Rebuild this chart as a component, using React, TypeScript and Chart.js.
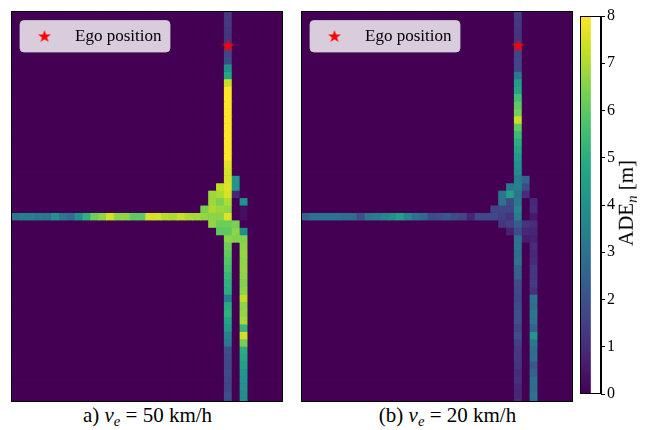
import React, { useEffect, useRef } from "react";
import { Chart, registerables } from "chart.js";
Chart.register(...registerables);

// ---------- grid geometry (in cell units) ----------
const N_COLS = 35;
const N_ROWS = 53;
const X_MAX = 34.35;
const Y_MAX = 52.35;
const MAIN_COL = 27;
const SIDE_COL = 29;
const CROSS_ROW = 27;
const EGO_POINT = { x: 27.5, y: 4.5 };
const V_MAX = 8;
const LEGEND_LABEL = "Ego position";

// ---------- panel a) v_e = 50 km/h ----------
const A_MAIN = [
  1.3, 1.3, 1.2, 1.2, 1.3, 1.7, 1.8, 4.0, 4.8, 7.3,
  8, 8, 8, 8, 8, 8, 8, 8, 8, 8,
  7.6, 7.5, 7.5, 7.6, 7.5, 7.0, 6.7, 7.6, 6.2, 6.0,
  6.6, 6.2, 6.0, 5.8, 5.6, 5.3, 5.1, 5.0, 3.5, 4.9,
  5.1, 4.6, 4.3, 3.5, 3.2, 1.9, 1.75, 1.7, 1.8, 1.7,
  1.6, 1.9, 1.8,
];
const A_SIDE = [
  0, 0, 0, 0, 0, 0, 0, 0, 0, 0,
  0, 0, 0, 0, 0, 0, 0, 0, 0, 0,
  0, 0, 0, 0, 0, 4.0, 0.3, 0.3, 0, 3.9,
  6.5, 6.6, 6.7, 6.6, 6.7, 6.6, 6.5, 6.6, 7.2, 6.6,
  6.7, 6.9, 5.3, 7.4, 6.3, 5.0, 4.8, 4.5, 4.2, 4.1,
  4.0, 3.9, 4.0,
];
const A_CROSS = [
  3.1, 3.5, 3.5, 3.2, 3.1, 4.0, 3.2, 2.8, 4.0, 5.1,
  6.2, 6.6, 7.4, 6.6, 6.6, 6.0, 6.0, 7.5, 7.5, 7.1,
  7.0, 7.3, 7.0, 6.9, 6.7, 6.6, 6.6,
];
// [row, col, value]
const A_JUNCTION: [number, number, number][] = [
  [22, 28, 4.1], [23, 28, 4.2], [24, 28, 0.9], [28, 28, 6.4], [29, 28, 6.6], [30, 28, 6.5],
  [23, 26, 7.2], [24, 26, 7.0], [25, 26, 6.4], [26, 26, 6.8], [28, 26, 6.2], [29, 26, 6.0],
  [24, 25, 6.8], [25, 25, 6.8], [26, 25, 7.0], [28, 25, 6.7],
  [26, 24, 6.4],
];

// ---------- panel (b) v_e = 20 km/h ----------
const B_MAIN = [
  1.4, 1.3, 1.2, 1.2, 1.3, 1.6, 1.7, 1.7, 3.2, 4.4,
  4.7, 5.5, 6.0, 6.3, 7.3, 6.0, 5.4, 5.0, 4.7, 4.3,
  4.0, 3.8, 3.3, 3.5, 3.0, 3.2, 3.6, 3.3, 2.3, 1.8,
  3.0, 3.0, 2.9, 3.1, 2.5, 2.5, 1.75, 1.7, 1.6, 1.85,
  1.9, 1.9, 1.6, 1.9, 1.5, 1.3, 1.3, 1.2, 1.0, 1.1,
  0.9, 0.85, 1.0,
];
const B_SIDE = [
  0, 0, 0, 0, 0, 0, 0, 0, 0, 0,
  0, 0, 0, 0, 0, 0, 0, 0, 0, 0,
  0, 0, 0, 0, 0, 0.9, 1.0, 0.5, 1.0, 0.8,
  0.7, 1.0, 0.9, 1.0, 1.3, 1.2, 1.4, 1.1, 3.0, 2.8,
  3.2, 3.0, 2.5, 4.2, 3.2, 2.8, 2.9, 2.2, 2.5, 2.9,
  2.8, 3.0, 2.9,
];
const B_CROSS = [
  2.5, 3.0, 3.0, 3.0, 3.0, 2.9, 2.8, 1.9, 3.2, 3.3,
  3.6, 4.0, 4.4, 3.6, 3.0, 2.7, 1.8, 1.9, 2.2, 1.85,
  1.6, 0.8, 1.75, 1.75, 1.7, 1.5, 1.2,
];
const B_JUNCTION: [number, number, number][] = [
  [22, 28, 2.6], [23, 28, 1.8], [24, 28, 1.0], [28, 28, 1.2], [29, 28, 0.9], [30, 28, 0.6],
  [23, 26, 3.2], [24, 26, 4.5], [25, 26, 1.8], [26, 26, 1.6], [28, 26, 1.5], [29, 26, 0.7],
  [24, 25, 3.0], [25, 25, 3.0], [26, 25, 1.6], [28, 25, 1.2],
  [26, 24, 1.6],
];

// ---------- colorbar ----------
const CBAR_MIN = 0;
const CBAR_MAX = 8;
const VIRIDIS = [
  "#440154", "#482475", "#414487", "#355f8d", "#2a788e", "#21918c",
  "#22a884", "#44bf70", "#7ad151", "#bddf26", "#fde725",
];

const SERIF = "'Liberation Serif', 'Times New Roman', serif";

function hexToRgb(h: string) {
  const n = parseInt(h.slice(1), 16);
  return [(n >> 16) & 255, (n >> 8) & 255, n & 255];
}
const VIR_RGB = VIRIDIS.map(hexToRgb);
function viridis(t: number) {
  const tt = Math.max(0, Math.min(1, t)) * (VIR_RGB.length - 1);
  const i = Math.min(VIR_RGB.length - 2, Math.floor(tt));
  const f = tt - i;
  const a = VIR_RGB[i], b = VIR_RGB[i + 1];
  const c = a.map((v, k) => Math.round(v + (b[k] - v) * f));
  return `rgb(${c[0]},${c[1]},${c[2]})`;
}

function buildGrid(main: number[], side: number[], cross: number[], junction: [number, number, number][]) {
  const g = Array.from({ length: N_ROWS }, () => new Array(N_COLS).fill(0));
  main.forEach((v, r) => (g[r][MAIN_COL] = v));
  side.forEach((v, r) => (g[r][SIDE_COL] = v));
  cross.forEach((v, c) => (g[CROSS_ROW][c] = v));
  junction.forEach(([r, c, v]) => (g[r][c] = v));
  return g;
}

function makeStar(size: number, color: string) {
  const c = document.createElement("canvas");
  c.width = size;
  c.height = size;
  const ctx = c.getContext("2d")!;
  const cx = size / 2, cy = size / 2 + 0.6;
  const R = size / 2 - 0.3, r = R * 0.4;
  ctx.beginPath();
  for (let i = 0; i < 10; i++) {
    const rad = i % 2 === 0 ? R : r;
    const a = -Math.PI / 2 + (i * Math.PI) / 5;
    const x = cx + rad * Math.cos(a), y = cy + rad * Math.sin(a);
    if (i === 0) ctx.moveTo(x, y);
    else ctx.lineTo(x, y);
  }
  ctx.closePath();
  ctx.fillStyle = color;
  ctx.fill();
  return c;
}

function panelConfig(grid: number[][], star: HTMLCanvasElement): any {
  const cols = Array.from({ length: N_COLS }, (_, c) => c);
  const rowSets = grid.map((row, r) => ({
    type: "bar",
    data: cols.map((c) => ({ x: c + 0.5, y: [r, r + 1] })),
    backgroundColor: cols.map((c) => viridis(row[c] / V_MAX)),
    borderWidth: 0,
    barPercentage: 1,
    categoryPercentage: 1,
    grouped: false,
    order: 2,
  }));
  const bgPlugin = {
    id: "bg",
    beforeDatasetsDraw(chart: any) {
      const { ctx, chartArea: a } = chart;
      ctx.save();
      ctx.fillStyle = VIRIDIS[0];
      ctx.fillRect(a.left, a.top, a.right - a.left, a.bottom - a.top);
      ctx.restore();
    },
  };
  const legendPlugin = {
    id: "egoLegend",
    afterDraw(chart: any) {
      const ctx = chart.ctx;
      const x = 8, y = 8.5, w = 150, h = 31.5, rad = 4;
      ctx.save();
      ctx.beginPath();
      ctx.moveTo(x + rad, y);
      ctx.lineTo(x + w - rad, y);
      ctx.quadraticCurveTo(x + w, y, x + w, y + rad);
      ctx.lineTo(x + w, y + h - rad);
      ctx.quadraticCurveTo(x + w, y + h, x + w - rad, y + h);
      ctx.lineTo(x + rad, y + h);
      ctx.quadraticCurveTo(x, y + h, x, y + h - rad);
      ctx.lineTo(x, y + rad);
      ctx.quadraticCurveTo(x, y, x + rad, y);
      ctx.closePath();
      ctx.fillStyle = "rgba(255,255,255,0.8)";
      ctx.fill();
      ctx.strokeStyle = "rgba(204,204,204,0.8)";
      ctx.lineWidth = 1;
      ctx.stroke();
      ctx.drawImage(star, 32.5 - star.width / 2, 24 - star.height / 2);
      ctx.fillStyle = "#000";
      ctx.font = `17px ${SERIF}`;
      ctx.textBaseline = "middle";
      ctx.fillText(LEGEND_LABEL, 63, 24.5);
      ctx.restore();
    },
  };
  return {
    type: "bar",
    data: {
      datasets: [
        { type: "scatter", label: LEGEND_LABEL, data: [EGO_POINT], pointStyle: star, pointRadius: 7, order: 0 },
        ...rowSets,
      ],
    },
    options: {
      responsive: false,
      animation: false,
      events: [],
      layout: { padding: 0, autoPadding: false },
      plugins: { legend: { display: false }, tooltip: { enabled: false } },
      scales: {
        x: { type: "linear", min: 0, max: X_MAX, offset: false, display: false },
        y: { type: "linear", min: 0, max: Y_MAX, reverse: true, display: false },
      },
    },
    plugins: [bgPlugin, legendPlugin],
  };
}

function colorbarConfig(): any {
  const outline = {
    id: "outline",
    afterDraw(chart: any) {
      const { ctx, chartArea: a } = chart;
      ctx.save();
      ctx.strokeStyle = "#000";
      ctx.lineWidth = 1;
      ctx.strokeRect(a.left + 0.5, a.top + 0.5, a.right - a.left - 1, a.bottom - a.top - 1);
      ctx.restore();
    },
  };
  return {
    type: "bar",
    data: {
      labels: [""],
      datasets: [
        {
          data: [[CBAR_MIN, CBAR_MAX]],
          barPercentage: 1,
          categoryPercentage: 1,
          borderWidth: 0,
          backgroundColor: (c: any) => {
            const a = c.chart.chartArea;
            if (!a) return VIRIDIS[0];
            const g = c.chart.ctx.createLinearGradient(0, a.bottom, 0, a.top);
            VIRIDIS.forEach((col, i) => g.addColorStop(i / (VIRIDIS.length - 1), col));
            return g;
          },
        },
      ],
    },
    options: {
      responsive: false,
      animation: false,
      events: [],
      layout: { padding: { left: 1, top: 16, bottom: 36, right: 0 }, autoPadding: false },
      plugins: { legend: { display: false }, tooltip: { enabled: false } },
      scales: {
        x: { display: false, offset: false },
        y: {
          position: "right",
          min: CBAR_MIN,
          max: CBAR_MAX,
          ticks: { stepSize: 1, color: "#000", padding: 2, font: { family: SERIF, size: 16 } },
          grid: { drawOnChartArea: false, drawTicks: true, tickLength: 4, color: "#000" },
          border: { display: true, color: "#000" },
          afterFit: (s: any) => {
            s.width = 51;
          },
        },
      },
    },
    plugins: [outline],
  };
}

export default function App() {
  const aRef = useRef<HTMLCanvasElement>(null);
  const bRef = useRef<HTMLCanvasElement>(null);
  const cRef = useRef<HTMLCanvasElement>(null);

  useEffect(() => {
    const star = makeStar(14, "#ff0000");
    const gridA = buildGrid(A_MAIN, A_SIDE, A_CROSS, A_JUNCTION);
    const gridB = buildGrid(B_MAIN, B_SIDE, B_CROSS, B_JUNCTION);
    const charts = [
      new Chart(aRef.current!, panelConfig(gridA, star)),
      new Chart(bRef.current!, panelConfig(gridB, star)),
      new Chart(cRef.current!, colorbarConfig()),
    ];
    return () => charts.forEach((c) => c.destroy());
  }, []);

  const panelBox = (left: number): React.CSSProperties => ({
    position: "absolute",
    left,
    top: 11,
    width: 270,
    height: 389,
    border: "1px solid #000",
  });
  const caption = (cx: number): React.CSSProperties => ({
    position: "absolute",
    left: cx,
    top: 418,
    transform: "translate(-50%, -50%)",
    fontFamily: SERIF,
    fontSize: 21,
    whiteSpace: "nowrap",
    color: "#000",
    lineHeight: "24px",
  });
  const sub: React.CSSProperties = { fontSize: "0.7em", verticalAlign: "-0.3em", fontStyle: "italic" };

  return (
    <div style={{ position: "fixed", left: 0, top: 0, width: 652, height: 430, background: "#fff", overflow: "hidden" }}>
      <div style={panelBox(11)}>
        <canvas ref={aRef} width={270} height={389} style={{ display: "block" }} />
      </div>
      <div style={panelBox(301)}>
        <canvas ref={bRef} width={270} height={389} style={{ display: "block" }} />
      </div>
      <canvas ref={cRef} width={73} height={430} style={{ position: "absolute", left: 579, top: 0, display: "block" }} />
      <div
        style={{
          position: "absolute",
          left: 629,
          top: 203,
          transform: "translate(-50%, -50%) rotate(-90deg)",
          fontFamily: SERIF,
          fontSize: 21,
          whiteSpace: "nowrap",
          color: "#000",
          lineHeight: "24px",
        }}
      >
        ADE<span style={sub}>n</span> [m]
      </div>
      <div style={caption(147.5)}>
        a) <i>v</i>
        <span style={sub}>e</span> = 50 km/h
      </div>
      <div style={caption(447.5)}>
        (b) <i>v</i>
        <span style={sub}>e</span> = 20 km/h
      </div>
    </div>
  );
}
